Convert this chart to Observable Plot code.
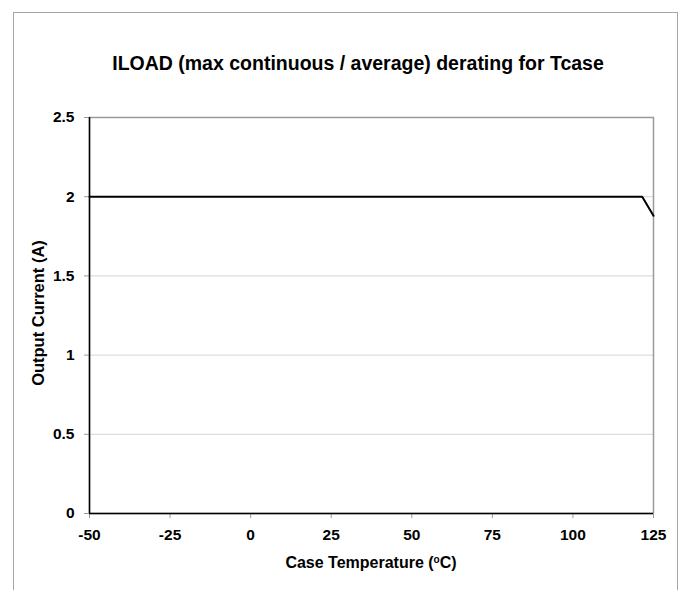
<!DOCTYPE html>
<html>
<head>
<meta charset="utf-8">
<script src="https://cdn.jsdelivr.net/npm/d3@7"></script>
<script src="https://cdn.jsdelivr.net/npm/@observablehq/plot@0.6"></script>
<style>
  html, body { margin: 0; padding: 0; background: #fff; }
  #wrap { position: relative; width: 683px; height: 590px; overflow: hidden; font-family: "Liberation Sans", Arial, sans-serif; font-weight: bold; color: #000; }
  #frame { position: absolute; left: 13px; top: 12px; width: 665px; height: 620px; border: 1px solid #a6a6a6; box-sizing: border-box; }
  #chart { position: absolute; left: 0; top: 0; }
  .lbl { position: absolute; white-space: nowrap; }
  #title { left: 358px; top: 52px; transform: translateX(-50%); font-size: 19.5px; line-height: 22px; }
  #xlabel { left: 371px; top: 553px; transform: translateX(-50%); font-size: 16px; line-height: 20px; }
  #ylabel { left: 38px; top: 313px; transform: translate(-50%, -50%) rotate(-90deg); font-size: 16.5px; line-height: 20px; }
  sup { font-size: 10px; vertical-align: 5px; line-height: 0; }
</style>
</head>
<body>
<div id="wrap">
  <div id="frame"></div>
  <div id="chart"></div>
  <div class="lbl" id="title">ILOAD (max continuous / average) derating for Tcase</div>
  <div class="lbl" id="xlabel">Case Temperature (<sup>o</sup>C)</div>
  <div class="lbl" id="ylabel">Output Current (A)</div>
</div>
<script>
const temperature = [-50, 121.5, 125];
const outputCurrent = [2, 2, 1.88];
const xTicks = [-50, -25, 0, 25, 50, 75, 100, 125];
const yTicks = [0, 0.5, 1, 1.5, 2, 2.5];

const data = temperature.map((t, i) => ({t, a: outputCurrent[i]}));

const chart = Plot.plot({
  width: 683,
  height: 590,
  marginLeft: 89,
  marginRight: 30,
  marginTop: 117,
  marginBottom: 77,
  style: {fontFamily: '"Liberation Sans", Arial, sans-serif', fontSize: "15.5px", fontWeight: "bold", color: "#000", background: "transparent", overflow: "visible"},
  x: {domain: [-50, 125]},
  y: {domain: [0, 2.5]},
  marks: [
    Plot.gridY(yTicks.slice(1, -1), {stroke: "#d4d4d4", strokeOpacity: 1, strokeWidth: 1}),
    Plot.frame({stroke: "#9a9a9a", strokeWidth: 1.5}),
    Plot.axisX(xTicks, {tickSize: 5, tickPadding: 10, stroke: "#9a9a9a", label: null, tickFormat: d => String(d)}),
    Plot.axisY(yTicks, {tickSize: 5, tickPadding: 10, stroke: "#9a9a9a", label: null, tickFormat: d => String(d)}),
    Plot.ruleX([-50], {stroke: "#000", strokeWidth: 1.5}),
    Plot.ruleY([0], {stroke: "#000", strokeWidth: 1.5}),
    Plot.line(data, {x: "t", y: "a", stroke: "#000", strokeWidth: 2})
  ]
});
document.getElementById("chart").appendChild(chart);
</script>
</body>
</html>
